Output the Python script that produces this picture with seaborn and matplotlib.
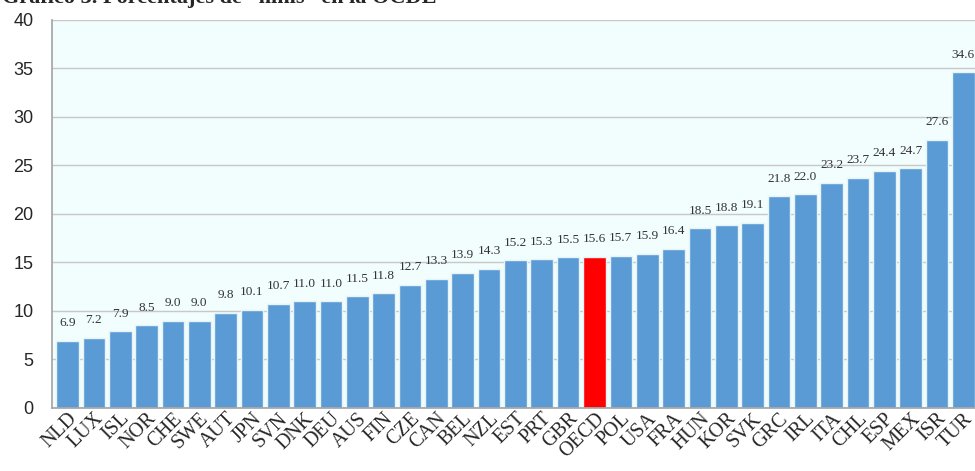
import matplotlib
matplotlib.use('Agg')
import matplotlib.pyplot as plt
import seaborn as sns
import pandas as pd

paises = ['NLD', 'LUX', 'ISL', 'NOR', 'CHE', 'SWE', 'AUT', 'JPN', 'SVN', 'DNK',
          'DEU', 'AUS', 'FIN', 'CZE', 'CAN', 'BEL', 'NZL', 'EST', 'PRT', 'GBR',
          'OECD', 'POL', 'USA', 'FRA', 'HUN', 'KOR', 'SVK', 'GRC', 'IRL', 'ITA',
          'CHL', 'ESP', 'MEX', 'ISR', 'TUR']
valores = [6.9, 7.2, 7.9, 8.5, 9.0, 9.0, 9.8, 10.1, 10.7, 11.0,
           11.0, 11.5, 11.8, 12.7, 13.3, 13.9, 14.3, 15.2, 15.3, 15.5,
           15.6, 15.7, 15.9, 16.4, 18.5, 18.8, 19.1, 21.8, 22.0, 23.2,
           23.7, 24.4, 24.7, 27.6, 34.6]
titulo = 'Gráfico 3. Porcentajes de “ninis” en la OCDE'

df = pd.DataFrame({'pais': paises, 'valor': valores})
df['grupo'] = ['ocde' if p == 'OECD' else 'pais' for p in paises]

sns.set_theme(style='white')
fig = plt.figure(figsize=(9.75, 4.71), dpi=100)
ax = fig.add_axes([0.053, 0.134, 0.95, 0.824])
ax.set_facecolor('#F2FDFD')

sns.barplot(data=df, x='pais', y='valor', hue='grupo', order=paises,
            palette={'pais': '#5B9BD5', 'ocde': '#FF0000'}, dodge=False,
            legend=False, width=0.86, saturation=1, edgecolor='#E6F4F7',
            linewidth=1, ax=ax)

for i, v in enumerate(valores):
    ax.text(i, v + 1.2, '%.1f' % v, ha='center', va='bottom',
            fontsize=9.5, family='Liberation Serif', color='#333333')

ax.set_ylim(0, 40)
ax.set_xlim(-0.6, 34.55)
ax.set_yticks(range(0, 41, 5))
ax.yaxis.grid(True, color='#C8C8C8', linewidth=1)
ax.set_axisbelow(True)
for s in ['top', 'right']:
    ax.spines[s].set_visible(False)
for s in ['left', 'bottom']:
    ax.spines[s].set_color('#A6A6A6')
ax.set_xlabel('')
ax.set_ylabel('')
ax.tick_params(axis='y', labelsize=13, pad=13, length=0)
ax.tick_params(axis='x', length=0, pad=1)
for lab in ax.get_yticklabels():
    lab.set_family('Liberation Sans')
ax.set_xticks(range(len(paises)))
ax.set_xticklabels(paises, rotation=45, ha='right', rotation_mode='anchor',
                   family='Liberation Serif', fontsize=14.5)

fig.text(0.002, 0.994, titulo, ha='left', va='baseline', fontsize=16,
         fontweight='bold', family='Liberation Serif')

fig.savefig('out.png', dpi=100)
